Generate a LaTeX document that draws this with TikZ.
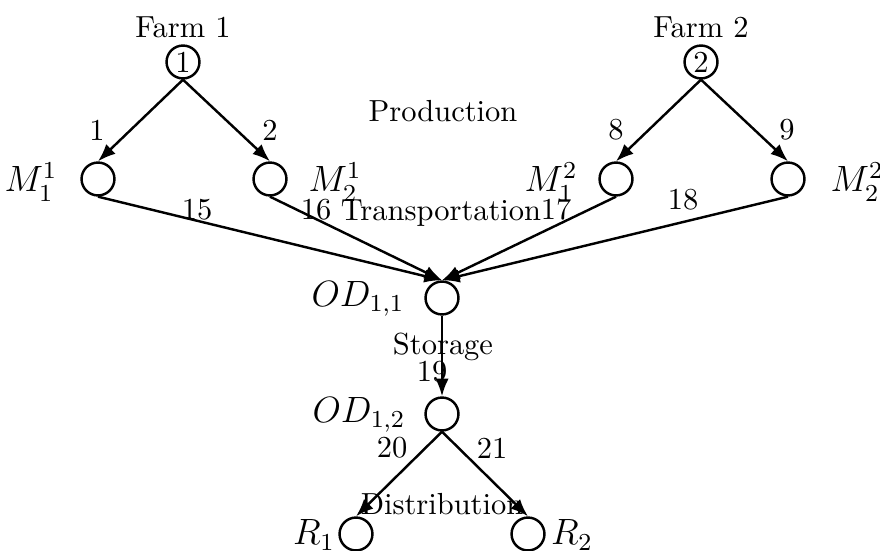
\documentclass[tikz,border=0pt]{standalone}
\usetikzlibrary{arrows.meta}
\begin{document}
\begin{tikzpicture}[x=0.328pt,y=-0.328pt,
  vert/.style={draw,circle,thick,minimum size=10.8pt,inner sep=0pt},
  arr/.style={thick,-{Latex[length=5.8pt,width=4.4pt]}},
  txt/.style={inner sep=0pt},
  mlab/.style={inner sep=0pt,font=\large}]
\useasboundingbox (0,0) rectangle (880,551);
% vertices
\node[vert] (f1) at (183,62) {1};
\node[vert] (f2) at (701,62) {2};
\node[vert] (m11) at (98,179) {};
\node[vert] (m21) at (270,179) {};
\node[vert] (m12) at (616,179) {};
\node[vert] (m22) at (788,179) {};
\node[vert] (od1) at (442,298) {};
\node[vert] (od2) at (442,414) {};
\node[vert] (r1) at (356,534) {};
\node[vert] (r2) at (528,534) {};
% names
\node[txt] (lf1) at (183,27) {Farm 1};
\node[txt] (lf2) at (701,27) {Farm 2};
\node[mlab] (lm11) at (31,182) {$M_1^1$};
\node[mlab] (lm21) at (335,182) {$M_2^1$};
\node[mlab] (lm12) at (551,182) {$M_1^2$};
\node[mlab] (lm22) at (857,182) {$M_2^2$};
\node[mlab] (lod1) at (358,299) {$OD_{1,1}$};
\node[mlab] (lod2) at (359,415) {$OD_{1,2}$};
\node[mlab] (lr1) at (314,535) {$R_1$};
\node[mlab] (lr2) at (572,535) {$R_2$};
% stage texts
\node[txt] (tp) at (443,111) {Production};
\node[txt] (tt) at (441,213) {Transportation};
\node[txt] (ts) at (443,347) {Storage};
\node[txt] (td) at (442,504) {Distribution};
% edges
\draw[arr] (f1.south) -- (m11.north);
\draw[arr] (f1.south) -- (m21.north);
\draw[arr] (f2.south) -- (m12.north);
\draw[arr] (f2.south) -- (m22.north);
\draw[arr] (m11.south) -- (od1.north);
\draw[arr] (m21.south) -- (od1.north);
\draw[arr] (m12.south) -- (od1.north);
\draw[arr] (m22.south) -- (od1.north);
\draw[arr] (od1.south) -- (od2.north);
\draw[arr] (od2.south) -- (r1.north);
\draw[arr] (od2.south) -- (r2.north);
% edge labels
\node[txt] (e1) at (97,130) {1};
\node[txt] (e2) at (270,130) {2};
\node[txt] (e8) at (616,130) {8};
\node[txt] (e9) at (787,130) {9};
\node[txt] (e15) at (197,210) {15};
\node[txt] (e16) at (316,210) {16};
\node[txt] (e17) at (556,210) {17};
\node[txt] (e18) at (683,200) {18};
\node[txt] (e19) at (432,372) {19};
\node[txt] (e20) at (392,448) {20};
\node[txt] (e21) at (492,448) {21};
\end{tikzpicture}
\end{document}
